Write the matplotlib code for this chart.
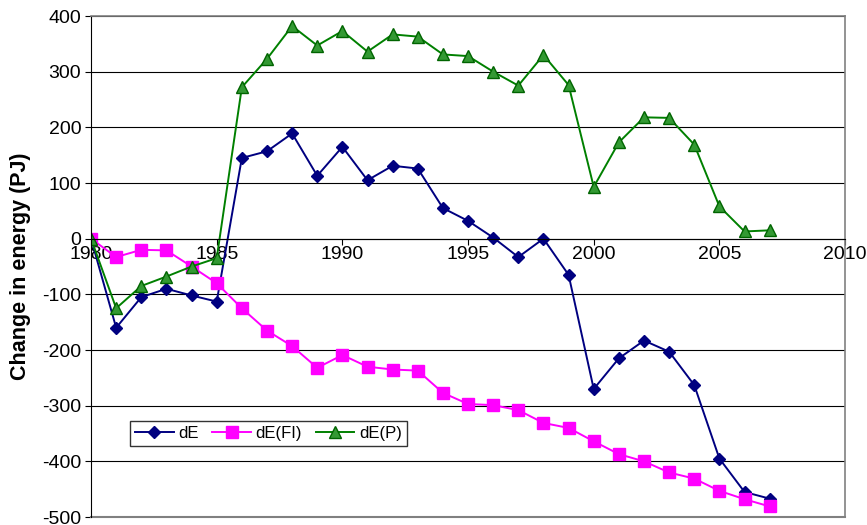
import matplotlib
matplotlib.use("Agg")
import matplotlib.pyplot as plt
import numpy as np

plt.rcParams['font.family'] = ['Liberation Sans', 'DejaVu Sans']
plt.rcParams['axes.unicode_minus'] = False

years = list(range(1980, 2008))
dE = [0, -160, -105, -90, -102, -113, 145, 157, 189, 113, 165, 105, 131, 126,
      55, 32, 2, -33, 0, -65, -270, -215, -183, -203, -263, -395, -455, -467]
dE_FI = [0, -33, -20, -21, -50, -80, -125, -165, -193, -232, -209, -230, -235, -237,
         -277, -297, -299, -308, -331, -340, -364, -387, -400, -420, -431, -453, -468, -481]
dE_P = [0, -125, -85, -68, -50, -35, 272, 323, 382, 347, 373, 336, 367, 363,
        331, 328, 300, 275, 330, 276, 93, 173, 218, 217, 169, 58, 13, 15]

xticks = [1980, 1985, 1990, 1995, 2000, 2005, 2010]
yticks = [-500, -400, -300, -200, -100, 0, 100, 200, 300, 400]

fig = plt.figure(figsize=(8.67, 5.25), dpi=100)
ax = fig.add_axes([0.105, 0.0152, 0.8697, 0.9543])

ax.plot(years, dE, color='#000080', marker='D', markersize=6, lw=1.4, label='dE')
ax.plot(years, dE_FI, color='#ff00ff', marker='s', markersize=8, lw=1.4, label='dE(FI)')
ax.plot(years, dE_P, color='#008000', marker='^', markersize=8, lw=1.4,
        markerfacecolor='#339933', markeredgecolor='#006400', label='dE(P)')

ax.set_xlim(1980, 2010)
ax.set_ylim(-500, 400)
ax.set_xticks(xticks)
ax.set_yticks(yticks)
ax.yaxis.grid(True, color='black', lw=0.8)
ax.set_axisbelow(True)

ax.spines['bottom'].set_position(('data', 0))
ax.spines['bottom'].set_color('black')
ax.spines['left'].set_color('black')
for s in ['top', 'right']:
    ax.spines[s].set_color('#808080')
    ax.spines[s].set_linewidth(1.2)
ax.axhline(-500, color='#808080', lw=1.5, clip_on=False)

ax.tick_params(axis='x', direction='out', length=4, pad=1, labelsize=14)
ax.tick_params(axis='y', direction='out', length=4, pad=3, labelsize=14)

ax.set_ylabel('Change in energy (PJ)', fontsize=15.5, fontweight='bold', labelpad=8)

leg = ax.legend(loc='lower left', bbox_to_anchor=(0.052, 0.142), ncol=3,
                fancybox=False, edgecolor='black', fontsize=12, borderaxespad=0,
                handlelength=2.3, columnspacing=0.8, handletextpad=0.3,
                borderpad=0.3)
leg.get_frame().set_linewidth(1.0)

fig.savefig('out.png', dpi=100)
